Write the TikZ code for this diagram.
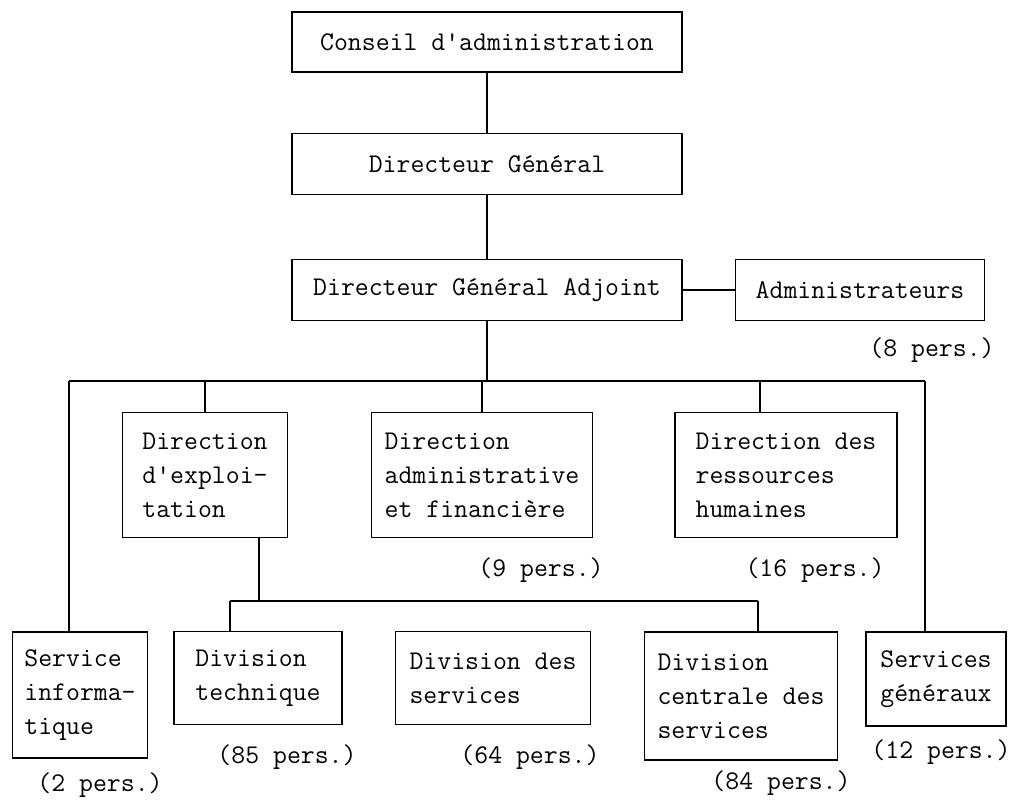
\documentclass[tikz,border=0pt]{standalone}
\usepackage{tikz}
\usetikzlibrary{calc}

\newcommand{\orgfont}{\ttfamily\fontsize{27}{34}\selectfont}
\tikzset{
  unit/.style={draw, line width=1.5pt, inner sep=0pt, align=left, font=\orgfont},
  staff/.style={inner sep=0pt, font=\orgfont},
}

\begin{document}
\begin{tikzpicture}[x=1pt, y=-1pt, line width=1.3pt]
        \useasboundingbox (0,0) rectangle (1027,806);

        % Top of the chart
        \node[unit, minimum width=390pt, minimum height=60pt] (conseil) at (487,42) {Conseil d'administration};
        \node[unit, minimum width=390pt, minimum height=61pt] (dg) at (487,164) {Directeur Général};
        \node[unit, minimum width=390pt, minimum height=61pt] (dga) at (487,290) {Directeur Général Adjoint};
        \node[unit, minimum width=249pt, minimum height=61pt] (admin) at (860,290) {Administrateurs};
        \node[staff] (p8) at (932,350) {(8 pers.)};

        % Directions
        \node[unit, minimum width=165pt, minimum height=125pt] (dexpl) at (205,475) {Direction\\d'exploi-\\tation};
        \node[unit, minimum width=221pt, minimum height=125pt] (dadmin) at (482,475) {Direction\\administrative\\et financière};
        \node[unit, minimum width=222pt, minimum height=125pt] (drh) at (786,475) {Direction des\\ressources\\humaines};
        \node[staff] (p9) at (541,570) {(9 pers.)};
        \node[staff] (p16) at (815,570) {(16 pers.)};

        % Services and divisions
        \node[unit, minimum width=135pt, minimum height=126pt] (sinfo) at (80,695) {Service\\informa-\\tique};
        \node[unit, minimum width=168pt, minimum height=93pt] (dtech) at (258,678) {Division\\technique};
        \node[unit, minimum width=195pt, minimum height=93pt] (dserv) at (493,678) {Division des\\services};
        \node[unit, minimum width=193pt, minimum height=128pt] (dcentr) at (741,696) {Division\\centrale des\\services};
        \node[unit, minimum width=140pt, minimum height=94pt] (sgen) at (936,679) {Services\\généraux};
        \node[staff] (p2) at (100,785) {(2 pers.)};
        \node[staff] (p85) at (287,757) {(85 pers.)};
        \node[staff] (p64) at (530,757) {(64 pers.)};
        \node[staff] (p84) at (781,783) {(84 pers.)};
        \node[staff] (p12) at (941,752) {(12 pers.)};

        % Lines
        \coordinate (busa) at (69,381);
        \coordinate (busb) at (925,381);
        \coordinate (drhdrop) at (760,381);
        \coordinate (busc) at (230,601);
        \coordinate (busd) at (758,601);
        \coordinate (expldrop) at (259,601);

        \draw (conseil) -- (dg);
        \draw (dg) -- (dga);
        \draw (dga) -- (admin);
        \draw (dga.south) -- (dga.south |- busa);
        \draw (busa) -- (busb);
        \draw (busa) -- (busa |- sinfo.north);
        \draw (busb) -- (busb |- sgen.north);
        \draw (dexpl.north) -- (dexpl.north |- busa);
        \draw (dadmin.north) -- (dadmin.north |- busa);
        \draw (drhdrop) -- (drhdrop |- drh.north);
        \draw (expldrop |- dexpl.south) -- (expldrop);
        \draw (busc) -- (busd);
        \draw (busc) -- (busc |- dtech.north);
        \draw (busd) -- (busd |- dcentr.north);
\end{tikzpicture}
\end{document}
